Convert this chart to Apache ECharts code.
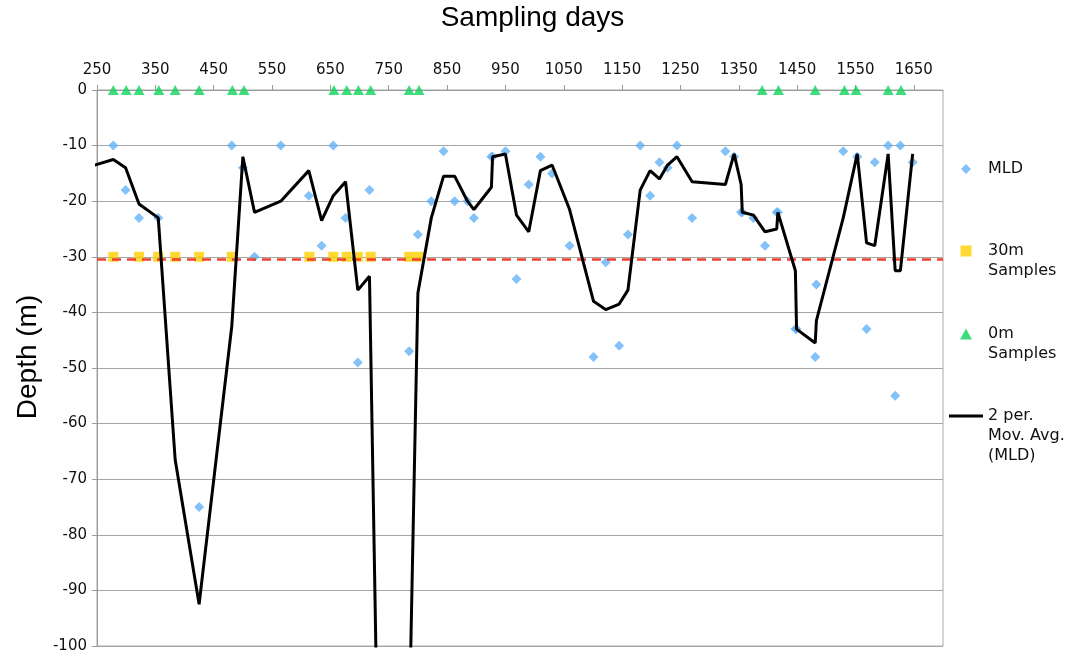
<!DOCTYPE html>
<html>
<head>
<meta charset="utf-8">
<script src="https://cdn.jsdelivr.net/npm/echarts@6/dist/echarts.min.js"></script>
<style>
  html, body { margin: 0; background: #fff; }
  #main { width: 1065px; height: 655px; }
</style>
</head>
<body>
<div id="main"></div>
<script>
// mixed layer depth per sampling day
var mldDays = [278, 299, 322, 355, 425, 481, 500, 520, 565, 613, 635, 655, 676, 697, 717,
  785, 800, 823, 844, 863, 885, 896, 926, 928, 950, 969, 990, 1010, 1030, 1060,
  1101, 1122, 1145, 1160, 1181, 1198, 1214, 1228, 1244, 1270, 1327, 1342, 1354, 1356,
  1375, 1395, 1415, 1417, 1447, 1449, 1481, 1483, 1529, 1553, 1569, 1583, 1606, 1618, 1627, 1648]
var mldDepth = [-10, -18, -23, -23, -75, -10, -14, -30, -10, -19, -28, -10, -23, -49, -18,
  -47, -26, -20, -11, -20, -20, -23, -12, -12, -11, -34, -17, -12, -15, -28,
  -48, -31, -46, -26, -10, -19, -13, -14, -10, -23, -11, -12, -22, -22,
  -23, -28, -22, -22, -43, -43, -48, -35, -11, -12, -43, -13, -10, -55, -10, -13]

// days with samples at 30 m and at the surface
var samples30Days = [278, 322, 355, 384, 425, 481, 614, 655, 678, 697, 719, 785, 802]
var samples30Depth = -30
var samples0Days = [278, 300, 322, 356, 384, 425, 482, 502, 656, 678, 698, 719, 785, 802,
  1390, 1418, 1481, 1531, 1551, 1606, 1628]
var samples0Depth = 0

// 2 period moving average as drawn (some points lie off the chart)
var avgDays = [230, 278, 299, 322, 355, 384, 425, 481, 500, 520, 565, 613, 635, 655, 676, 697, 717,
  728, 785, 800, 823, 844, 863, 885, 896, 926, 928, 950, 969, 990, 1010, 1030, 1060,
  1101, 1122, 1145, 1160, 1181, 1198, 1214, 1228, 1244, 1270, 1327, 1342, 1354, 1356,
  1375, 1395, 1415, 1417, 1447, 1449, 1481, 1483, 1529, 1553, 1569, 1583, 1606, 1618, 1627, 1648]
var avgDepth = [-14, -12.5, -14, -20.5, -23, -66.5, -92.5, -42.5, -12, -22, -20, -14.5, -23.5, -19, -16.5, -36, -33.5,
  -100.5, -115, -36.5, -23, -15.5, -15.5, -20, -21.5, -17.5, -12, -11.5, -22.5, -25.5, -14.5, -13.5, -21.5,
  -38, -39.5, -38.5, -36, -18, -14.5, -16, -13.5, -12, -16.5, -17, -11.5, -17, -22,
  -22.5, -25.5, -25, -22, -32.5, -43, -45.5, -41.5, -23, -11.5, -27.5, -28, -11.5, -32.5, -32.5, -11.5]

var cutoffDepth = -30.4

var chartDom = document.getElementById('main')
var myChart = echarts.init(chartDom)
var option

var font = 'DejaVu Sans'

// legend text: first line sits level with the icon, later lines hang below it
function legendFormatter(name) {
  var lines = name.split('\n')
  var out = []
  for (var i = 1; i < lines.length; i++) out.push('{t| }')
  lines.forEach(function (s) { out.push('{t|' + s + '}') })
  return out.join('\n')
}

function legendBox(name, icon, top, left, size, pad) {
  return {
    data: [{ name: name, icon: icon }],
    left: left,
    top: top,
    padding: 0,
    itemWidth: size[0],
    itemHeight: size[1],
    formatter: legendFormatter,
    textStyle: {
      rich: {
        t: { fontFamily: font, fontSize: 16, color: '#111', lineHeight: 20, padding: [0, 0, 0, pad] },
      },
    },
  }
}

option = {
  animation: false,
  title: {
    text: 'Sampling days',
    left: 'center',
    top: 4,
    padding: 0,
    textStyle: { fontFamily: 'Liberation Sans', fontSize: 28, fontWeight: 'normal', color: '#000' },
  },
  grid: {
    left: 97,
    right: 122,
    top: 90,
    bottom: 9,
    show: true,
    borderColor: '#aaa',
    borderWidth: 1,
  },
  legend: [
    legendBox('MLD', 'diamond', 161, 961, [10, 10], 12),
    legendBox('30m\nSamples', 'rect', 223, 960.5, [11, 11], 11.5),
    legendBox('0m\nSamples', 'triangle', 306, 960, [12, 11], 11),
    legendBox('2 per.\nMov. Avg.\n(MLD)', 'rect', 368, 949, [34, 3], 0),
  ],
  xAxis: {
    type: 'value',
    position: 'top',
    min: 250,
    max: 1700,
    interval: 100,
    axisLine: { show: true, lineStyle: { color: '#999' } },
    axisTick: { show: true, length: 5, lineStyle: { color: '#999' } },
    axisLabel: {
      showMaxLabel: false,
      fontFamily: font,
      fontSize: 15,
      color: '#111',
      margin: 12,
      formatter: function (v) { return String(v) },
    },
    splitLine: { show: false },
  },
  yAxis: {
    type: 'value',
    min: -100,
    max: 0,
    interval: 10,
    name: 'Depth (m)',
    nameLocation: 'middle',
    nameRotate: 90,
    nameGap: 54,
    nameTextStyle: { fontFamily: 'Liberation Sans', fontSize: 28, color: '#000', padding: [0, 0, 0, 22] },
    axisLine: { show: true, lineStyle: { color: '#999' } },
    axisTick: { show: true, length: 5, lineStyle: { color: '#999' } },
    axisLabel: { fontFamily: font, fontSize: 15, color: '#111', margin: 10 },
    splitLine: { show: true, lineStyle: { color: '#a6a6a6' } },
  },
  series: [
    {
      name: 'MLD',
      type: 'scatter',
      symbol: 'diamond',
      symbolSize: 10,
      itemStyle: { color: '#64b1f7' },
      data: mldDays.map(function (d, i) { return [d, mldDepth[i]] }),
      z: 2,
    },
    {
      name: '30m\nSamples',
      type: 'scatter',
      symbol: 'rect',
      symbolSize: 10,
      clip: false,
      itemStyle: { color: '#ffd000' },
      data: samples30Days.map(function (d) { return [d, samples30Depth] }),
      markLine: {
        silent: true,
        symbol: 'none',
        label: { show: false },
        lineStyle: { color: '#ee4030', type: [9, 6], width: 2.5 },
        data: [{ yAxis: cutoffDepth }],
      },
      z: 3,
    },
    {
      name: '0m\nSamples',
      type: 'scatter',
      symbol: 'triangle',
      symbolSize: [11, 10],
      clip: false,
      itemStyle: { color: '#0fd35a' },
      data: samples0Days.map(function (d) { return [d, samples0Depth] }),
      z: 3,
    },
    {
      name: '2 per.\nMov. Avg.\n(MLD)',
      type: 'line',
      symbol: 'none',
      lineStyle: { color: '#000', width: 3 },
      itemStyle: { color: '#000' },
      data: avgDays.map(function (d, i) { return [d, avgDepth[i]] }),
      z: 5,
    },
  ],
}

option && myChart.setOption(option)
</script>
</body>
</html>
